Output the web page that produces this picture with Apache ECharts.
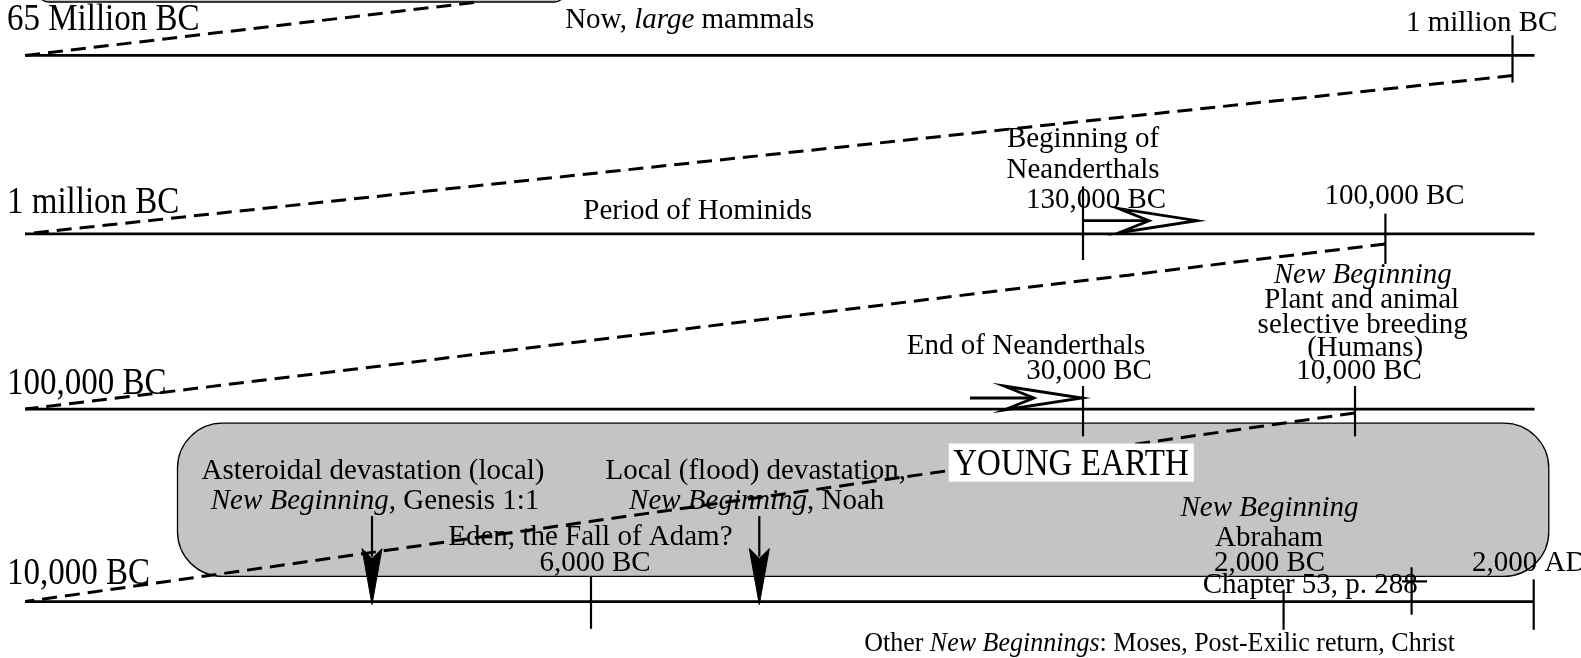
<!DOCTYPE html>
<html>
<head>
<meta charset="utf-8">
<script src="https://cdn.jsdelivr.net/npm/echarts@6/dist/echarts.min.js"></script>
<style>
html,body{margin:0;padding:0;background:#fff;}
#c{width:1581px;height:658px;}
</style>
</head>
<body>
<div id="c"></div>
<script>
// ---- diagram data (page coordinates: x 0..1581, y 0..658 downwards) ----
const rowY = [55.4, 233.8, 409.1, 601.6];
const rowStart = [25.2, 25.2, 25.2, 25.2];
const rowEnd = [1534.6, 1534.6, 1534.6, 1533.7];
const rowLabels = ['65 Million BC', '1 million BC', '100,000 BC', '10,000 BC'];
const rowLabelX = [7, 7, 7, 7];
const rowLabelY = [17.6, 201, 381.4, 571.9];

// ticks: [x, yTop, yBottom]
const ticks = [
  [1512.5, 35.3, 82.6],
  [1083, 186.4, 260],
  [1385.4, 213.6, 264],
  [1083, 386, 436.3],
  [1355, 386, 436.3],
  [591, 576.4, 628.8],
  [1283.6, 589.5, 629.8],
  [1411.6, 567.3, 614.7],
  [1533.7, 579.4, 629.8]
];
// short horizontal marks: [x1, x2, y]
const crossMarks = [[1402, 1427, 581.4]];

// dashed zoom links: [x1, y1, x2, y2]
const zoomLinks = [
  [25.2, 55.4, 478, 2],
  [1512.5, 75.6, 25.2, 233.8],
  [1385.4, 243.9, 25.2, 409.1],
  [1355, 413, 25.2, 601.6]
];

// open arrows: [xStart, xTip, y]
const openArrows = [[1083, 1197, 220.7], [970, 1082, 398]];
// down arrows: [x, yStart, yTip]
const downArrows = [[372, 516, 604.6], [759.3, 516, 604.6]];

// rounded grey period box: [x1, y1, x2, y2]
const periodBox = [177.5, 423.2, 1548.8, 576.4];
const topBox = [37, -60, 566, 2];
// title box: [x1, y1, x2, y2]
const titleBox = [948.8, 443.4, 1193.8, 481.7];
const titleText = 'YOUNG EARTH';
const titleCenter = [1071, 462.6];

// centred notes: [x, y, text]  ({i|...} = italic)
const notes = [
  [689.7, 17.6, 'Now, {i|large} mammals'],
  [1481.7, 20.7, '1 million BC'],
  [697.7, 208.6, 'Period of Hominids'],
  [1083, 137, 'Beginning of'],
  [1083, 167.3, 'Neanderthals'],
  [1096, 197.5, '130,000 BC'],
  [1394.5, 193.5, '100,000 BC'],
  [1362.7, 273, '{i|New Beginning}'],
  [1361.7, 297.3, 'Plant and animal'],
  [1362.7, 322.5, 'selective breeding'],
  [1365.2, 345.6, '(Humans)'],
  [1359, 368.8, '10,000 BC'],
  [1026, 343.6, 'End of Neanderthals'],
  [1089, 368.8, '30,000 BC'],
  [373, 468.6, 'Asteroidal devastation (local)'],
  [375, 498.8, '{i|New Beginning}, Genesis 1:1'],
  [755.7, 468.6, 'Local (flood) devastation,'],
  [756.7, 498.8, '{i|New Beginning}, Noah'],
  [590.4, 535, 'Eden, the Fall of Adam?'],
  [595, 560.3, '6,000 BC'],
  [1269.5, 505.9, '{i|New Beginning}'],
  [1269, 536, 'Abraham'],
  [1269.5, 560.3, '2,000 BC'],
  [1310.3, 582.5, 'Chapter 53, p. 288']
];
// left-aligned notes
const leftNotes = [[1472, 560.3, '2,000 AD']];
// footnote under the bottom row
const footNotes = [[1159.5, 641, 'Other {i|New Beginnings}: Moses, Post-Exilic return, Christ']];

// ---- styles ----
const FAMILY = "'Liberation Serif', 'Times New Roman', serif";
const NOTE_SIZE = 29;
const FOOT_SIZE = 26;
const BIG_SIZE = 33;
const INK = '#000';
const TEXT_DY = 2.4;

function richFor(size) {
  return {
    i: { fontStyle: 'italic', fontSize: size, fontFamily: FAMILY, fill: INK },
    n: { fontSize: size, fontFamily: FAMILY, fill: INK }
  };
}

function lineEl(api, x1, y1, x2, y2, style) {
  const a = api.coord([x1, y1]), b = api.coord([x2, y2]);
  return { type: 'line', shape: { x1: a[0], y1: a[1], x2: b[0], y2: b[1] }, style: style };
}
function rectEl(api, b, r, style) {
  const a = api.coord([b[0], b[1]]), c = api.coord([b[2], b[3]]);
  return {
    type: 'rect',
    shape: { x: Math.min(a[0], c[0]), y: Math.min(a[1], c[1]), width: Math.abs(c[0] - a[0]), height: Math.abs(c[1] - a[1]), r: r },
    style: style
  };
}
function textEl(api, x, y, text, size, align, sy) {
  const p = api.coord([x, y]);
  return {
    type: 'text', x: p[0], y: p[1] + TEXT_DY, scaleY: sy || 1.05,
    style: {
      text: text, fill: INK, fontSize: size, fontFamily: FAMILY,
      align: align, verticalAlign: 'middle', rich: richFor(size)
    }
  };
}

const chart = echarts.init(document.getElementById('c'), null, { renderer: 'canvas' });

const idx = arr => arr.map((d, i) => [i, 0]);

function noteSeries(arr, size, align) {
  return {
    type: 'custom', z: 3, silent: true,
    data: idx(arr),
    renderItem: function (params, api) {
      const n = arr[params.dataIndex];
      return textEl(api, n[0], n[1], n[2], size, align);
    }
  };
}

const option = {
  animation: false,
  backgroundColor: '#fff',
  grid: { left: 0, right: 0, top: 0, bottom: 0, containLabel: false },
  xAxis: { type: 'value', min: 0, max: 1581, show: false },
  yAxis: { type: 'value', min: 0, max: 658, inverse: true, show: false },
  series: [
    { // boxes
      type: 'custom', z: 1, silent: true,
      data: [[0, 0], [1, 0]],
      renderItem: function (params, api) {
        if (params.dataIndex === 0) return rectEl(api, periodBox, 45, { fill: '#c4c4c4', stroke: INK, lineWidth: 1.3 });
        return rectEl(api, topBox, 12, { fill: '#c4c4c4', stroke: INK, lineWidth: 1.3 });
      }
    },
    { // timeline rows
      type: 'custom', z: 2, silent: true,
      data: rowY.map((y, i) => [rowStart[i], y, rowEnd[i]]),
      renderItem: function (params, api) {
        return lineEl(api, api.value(0), api.value(1), api.value(2), api.value(1), { stroke: INK, lineWidth: 2.8 });
      }
    },
    { // ticks
      type: 'custom', z: 2, silent: true,
      data: ticks,
      renderItem: function (params, api) {
        return lineEl(api, api.value(0), api.value(1), api.value(0), api.value(2), { stroke: INK, lineWidth: 2.2 });
      }
    },
    { // cross marks
      type: 'custom', z: 2, silent: true,
      data: crossMarks,
      renderItem: function (params, api) {
        return lineEl(api, api.value(0), api.value(2), api.value(1), api.value(2), { stroke: INK, lineWidth: 2.2 });
      }
    },
    { // row labels
      type: 'custom', z: 3, silent: true,
      data: idx(rowLabels),
      renderItem: function (params, api) {
        const i = params.dataIndex;
        return textEl(api, rowLabelX[i], rowLabelY[i], rowLabels[i], BIG_SIZE, 'left', 1.12);
      }
    },
    noteSeries(notes, NOTE_SIZE, 'center'),
    noteSeries(leftNotes, NOTE_SIZE, 'left'),
    noteSeries(footNotes, FOOT_SIZE, 'center'),
    { // dashed zoom links
      type: 'custom', z: 4, silent: true,
      data: zoomLinks,
      renderItem: function (params, api) {
        return lineEl(api, api.value(0), api.value(1), api.value(2), api.value(3), { stroke: INK, lineWidth: 3, lineDash: [15, 8] });
      }
    },
    { // open arrows
      type: 'custom', z: 4, silent: true,
      data: openArrows,
      renderItem: function (params, api) {
        const x0 = api.value(0), xt = api.value(1), y = api.value(2);
        const L = 78, Hh = 12, notch = 48;
        const pts = [[xt - L, y - Hh], [xt, y], [xt - L, y + Hh], [xt - notch, y]].map(p => api.coord(p));
        return {
          type: 'group',
          children: [
            lineEl(api, x0, y, xt - notch, y, { stroke: INK, lineWidth: 2.8 }),
            { type: 'polygon', shape: { points: pts }, style: { fill: null, stroke: INK, lineWidth: 2.8, lineJoin: 'miter' } }
          ]
        };
      }
    },
    { // down arrows
      type: 'custom', z: 4, silent: true,
      data: downArrows,
      renderItem: function (params, api) {
        const x = api.value(0), y0 = api.value(1), yt = api.value(2);
        const pts = [[x - 10, yt - 56], [x, yt], [x + 10, yt - 56], [x, yt - 46]].map(p => api.coord(p));
        return {
          type: 'group',
          children: [
            lineEl(api, x, y0, x, yt - 48, { stroke: INK, lineWidth: 2.2 }),
            { type: 'polygon', shape: { points: pts }, style: { fill: INK, stroke: INK, lineWidth: 1 } }
          ]
        };
      }
    },
    { // title box
      type: 'custom', z: 5, silent: true,
      data: [[0, 0]],
      renderItem: function (params, api) {
        return {
          type: 'group',
          children: [
            rectEl(api, titleBox, 0, { fill: '#fff' }),
            textEl(api, titleCenter[0], titleCenter[1], titleText, BIG_SIZE, 'center', 1.12)
          ]
        };
      }
    }
  ]
};
chart.setOption(option);
</script>
</body>
</html>
